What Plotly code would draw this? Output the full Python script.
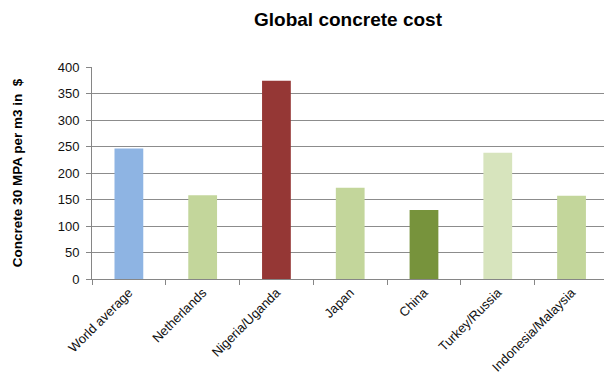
import plotly.graph_objects as go

# Concrete price (30 MPa, per m3, USD) by region
regions = ["World average", "Netherlands", "Nigeria/Uganda", "Japan",
           "China", "Turkey/Russia", "Indonesia/Malaysia"]
cost_usd = [246, 158, 374, 172, 130, 238, 157]
bar_colors = ["#8EB4E3", "#C3D69B", "#953735", "#C3D69B",
              "#77933C", "#D7E4BD", "#C3D69B"]

y_ticks = [0, 50, 100, 150, 200, 250, 300, 350, 400]

fig = go.Figure(
    go.Bar(
        x=regions,
        y=cost_usd,
        marker=dict(color=bar_colors, line=dict(width=0)),
        width=0.39,
    )
)

font_family = "Liberation Sans, Arial, sans-serif"

fig.update_layout(
    width=604,
    height=389,
    margin=dict(l=92, r=0, t=67, b=110),
    paper_bgcolor="white",
    plot_bgcolor="white",
    showlegend=False,
    font=dict(family=font_family, size=13, color="#111111"),
    title=dict(
        text="<b>Global concrete cost</b>",
        x=348 / 604,
        xanchor="center",
        y=1 - 19 / 389,
        yanchor="middle",
        font=dict(family=font_family, size=19, color="#000000"),
    ),
)

fig.update_xaxes(
    type="category",
    range=[-0.5, 6.44],
    showgrid=False,
    showline=True,
    linecolor="#868686",
    linewidth=1,
    ticks="outside",
    tickson="boundaries",
    ticklen=5,
    tickcolor="#868686",
    tickangle=-45,
    tickfont=dict(size=13, color="#111111"),
)

fig.update_yaxes(
    range=[0, 400],
    tickvals=y_ticks,
    showgrid=True,
    gridcolor="#8C8C8C",
    gridwidth=1,
    showline=True,
    linecolor="#868686",
    linewidth=1,
    ticks="outside",
    ticklen=5,
    tickcolor="#868686",
    ticklabelstandoff=4,
    tickfont=dict(size=13, color="#111111"),
    zeroline=False,
    title=dict(
        text="<b>Concrete 30 MPA per m3 in  $</b>",
        font=dict(size=13.5, color="#000000"),
        standoff=31,
    ),
)

fig.write_html("out.html")
